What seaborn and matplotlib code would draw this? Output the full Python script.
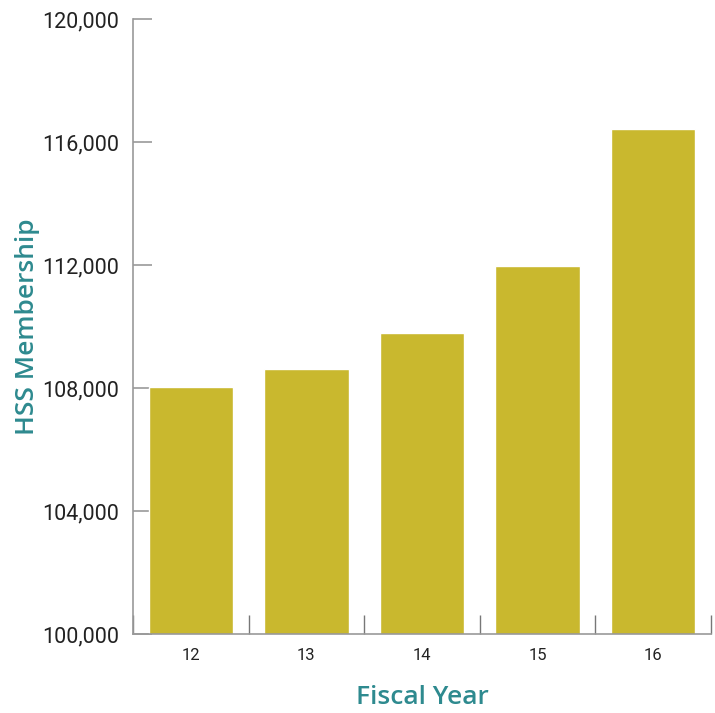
import matplotlib
matplotlib.use("Agg")
import matplotlib.pyplot as plt
import seaborn as sns
import pandas as pd
from matplotlib import font_manager

years = ["12", "13", "14", "15", "16"]
members = [108030, 108620, 109790, 111970, 116420]
yticks = [100000, 104000, 108000, 112000, 116000, 120000]

sns.set_style("white")
names = {f.name for f in font_manager.fontManager.ttflist}
tick_font = "Liberation Sans Narrow" if "Liberation Sans Narrow" in names else "Roboto"
plt.rcParams["font.family"] = [tick_font, "DejaVu Sans"]

df = pd.DataFrame({"year": years, "members": members})
fig = plt.figure(figsize=(7.15, 7.13), dpi=100)
ax = fig.add_axes([133/715, 1-634/713, 578/715, 615/713])
sns.barplot(data=df, x="year", y="members", color="#c9b82e", saturation=1, width=0.73, ax=ax)
ax.set_ylim(100000, 120000)
ax.set_xlim(-0.5, 4.5)
ax.set_yticks(yticks)
ax.set_yticklabels([f"{v:,}" for v in yticks], fontsize=15.5, color="#222222")
ax.set_xticks([i - 0.5 for i in range(len(years) + 1)])
ax.set_xticklabels([])
ax.set_xticks(range(len(years)), minor=True)
ax.set_xticklabels(years, minor=True, fontsize=12, color="#222222")
ax.tick_params(axis="x", which="major", bottom=True, direction="in", length=14, color="#777777", width=1)
ax.tick_params(axis="x", which="minor", bottom=True, length=0, pad=10)
ax.tick_params(axis="y", left=True, direction="in", length=14, color="#999999", width=1.2, pad=10)
for s in ["top", "right"]:
    ax.spines[s].set_visible(False)
for s in ["left", "bottom"]:
    ax.spines[s].set_color("#999999")
    ax.spines[s].set_linewidth(1.2)
ax.set_xlabel("Fiscal Year", fontsize=19, color="#2e8a8f", fontweight="semibold",
              family=["Open Sans", "DejaVu Sans"], labelpad=16)
ax.set_ylabel("HSS Membership", fontsize=19, color="#2e8a8f", fontweight="semibold",
              family=["Open Sans", "DejaVu Sans"], labelpad=1.5)
fig.savefig("out.png", dpi=100)
